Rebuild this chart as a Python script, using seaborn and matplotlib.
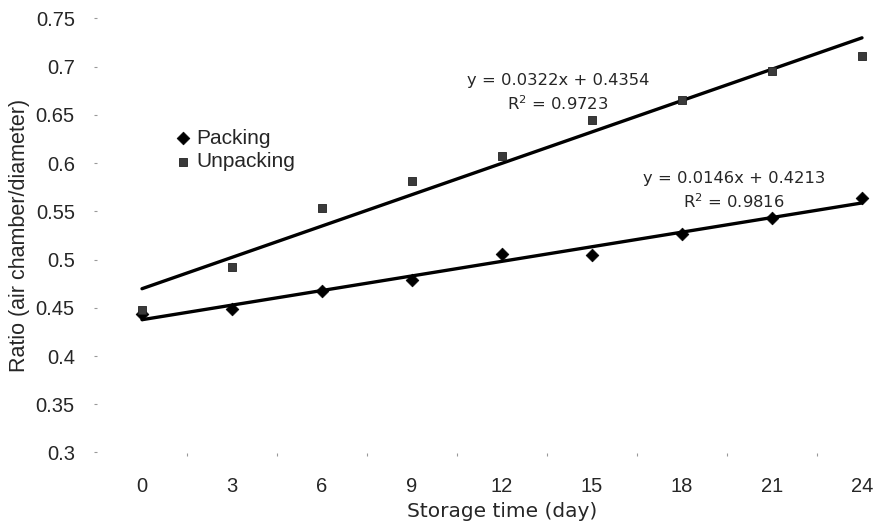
import matplotlib
matplotlib.use("Agg")
import matplotlib.pyplot as plt
import numpy as np
import pandas as pd
import seaborn as sns

# Values
days = [0, 3, 6, 9, 12, 15, 18, 21, 24]
packing = [0.444, 0.449, 0.467, 0.479, 0.506, 0.505, 0.527, 0.543, 0.564]
unpacking = [0.448, 0.492, 0.553, 0.582, 0.607, 0.645, 0.665, 0.696, 0.711]
eq_packing = ["y = 0.0146x + 0.4213", "R$^2$ = 0.9816"]
eq_unpacking = ["y = 0.0322x + 0.4354", "R$^2$ = 0.9723"]
y_ticks = [0.3, 0.35, 0.4, 0.45, 0.5, 0.55, 0.6, 0.65, 0.7, 0.75]

df = pd.DataFrame({"day": days, "Packing": packing, "Unpacking": unpacking})

sns.set_style("white")
plt.rcParams["font.family"] = ["Liberation Sans", "DejaVu Sans"]

fig = plt.figure(figsize=(8.74, 5.22), dpi=100)
ax = fig.add_axes([97 / 874, 69.5 / 522, 777 / 874, 434 / 522])

# trend lines (least squares fit from the data)
for col in ["Unpacking", "Packing"]:
    sns.regplot(data=df, x="day", y=col, ax=ax, scatter=False, ci=None,
                truncate=True, line_kws={"color": "black", "lw": 2.4})

sns.scatterplot(data=df, x="day", y="Packing", ax=ax, marker="D", s=42,
                color="black", edgecolor="black", linewidth=0.5,
                label="Packing", zorder=4)
sns.scatterplot(data=df, x="day", y="Unpacking", ax=ax, marker="s", s=40,
                color="#3a3a3a", edgecolor="#222222", linewidth=0.6,
                label="Unpacking", zorder=4)

ax.set_xlim(-1.5, 24.4)
ax.set_ylim(0.3, 0.75)
ax.set_xticks(days)
ax.set_xticklabels([str(d) for d in days], fontsize=14.5)
ax.set_yticks(y_ticks)
ax.set_yticklabels([f"{v:g}" for v in y_ticks], fontsize=14.5)
ax.set_xticks([d + 1.5 for d in days[:-1]], minor=True)
ax.tick_params(axis="y", length=2, width=0.8, color="#999999", pad=14,
               direction="out", left=True)
ax.tick_params(axis="x", which="major", length=0, pad=18)
ax.tick_params(axis="x", which="minor", length=2, width=0.8,
               color="#999999", bottom=True)
for sp in ax.spines.values():
    sp.set_visible(False)

ax.set_xlabel("Storage time (day)", fontsize=14.5, family="DejaVu Sans")
ax.xaxis.set_label_coords((502 - 97) / 777, -0.115)
ax.set_ylabel("Ratio (air chamber/diameter)", fontsize=15.5)
ax.yaxis.set_label_coords(-0.086, 0.5)

ax.legend(loc="upper left", bbox_to_anchor=(0.085, 0.765), frameon=False,
          fontsize=15, handletextpad=0.1, labelspacing=0.2,
          borderaxespad=0, handlelength=1.1)

ax.text(13.87, 0.686, eq_unpacking[0], ha="center", va="center", fontsize=11.8,
        family="DejaVu Sans")
ax.text(13.87, 0.662, eq_unpacking[1], ha="center", va="center", fontsize=11.8,
        family="DejaVu Sans")
ax.text(19.73, 0.5846, eq_packing[0], ha="center", va="center", fontsize=11.8,
        family="DejaVu Sans")
ax.text(19.73, 0.5597, eq_packing[1], ha="center", va="center", fontsize=11.8,
        family="DejaVu Sans")

fig.savefig("out.png", dpi=100)
